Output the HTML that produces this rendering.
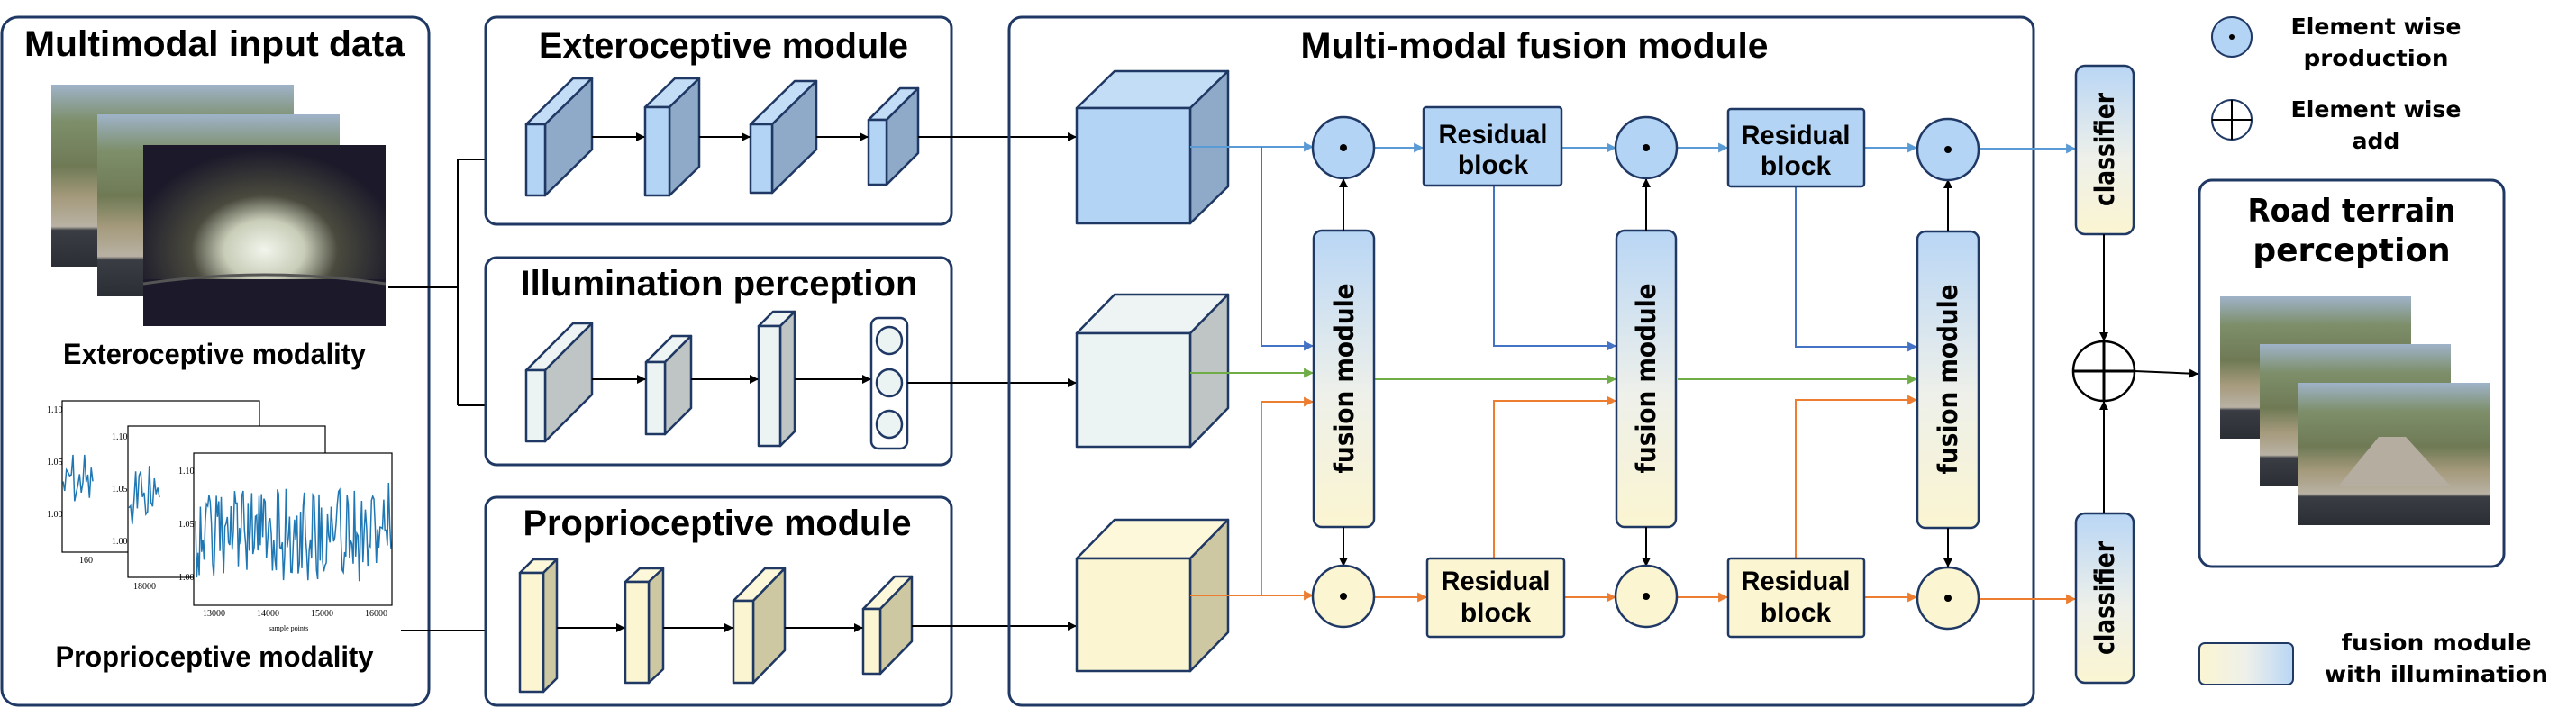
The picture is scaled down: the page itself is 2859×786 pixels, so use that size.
<!DOCTYPE html>
<html><head><meta charset="utf-8"><style>
html,body{margin:0;padding:0;background:#fff}
svg{display:block}
.t{font-family:"Liberation Sans",sans-serif;font-weight:bold;fill:#000}
.d{font-family:"DejaVu Sans","Liberation Sans",sans-serif;font-weight:bold;fill:#000}
</style></head><body>
<svg width="2859" height="786" viewBox="0 0 2859 786" xmlns="http://www.w3.org/2000/svg">
<defs>
<marker id="ak" viewBox="0 0 10 10" refX="9" refY="5" markerWidth="10" markerHeight="10" markerUnits="userSpaceOnUse" orient="auto"><path d="M0,0L10,5L0,10z" fill="#000"/></marker>
<marker id="ab" viewBox="0 0 10 10" refX="9" refY="5" markerWidth="11" markerHeight="11" markerUnits="userSpaceOnUse" orient="auto"><path d="M0,0L10,5L0,10z" fill="#5b9bd5"/></marker>
<marker id="ab2" viewBox="0 0 10 10" refX="9" refY="5" markerWidth="11" markerHeight="11" markerUnits="userSpaceOnUse" orient="auto"><path d="M0,0L10,5L0,10z" fill="#4472c4"/></marker>
<marker id="ag" viewBox="0 0 10 10" refX="9" refY="5" markerWidth="11" markerHeight="11" markerUnits="userSpaceOnUse" orient="auto"><path d="M0,0L10,5L0,10z" fill="#70ad47"/></marker>
<marker id="ao" viewBox="0 0 10 10" refX="9" refY="5" markerWidth="11" markerHeight="11" markerUnits="userSpaceOnUse" orient="auto"><path d="M0,0L10,5L0,10z" fill="#ed7d31"/></marker>
<linearGradient id="fg" x1="0" y1="0" x2="0" y2="1"><stop offset="0" stop-color="#b9d6f5"/><stop offset="0.55" stop-color="#eef0ea"/><stop offset="1" stop-color="#fbf5d1"/></linearGradient>
<linearGradient id="lg" x1="0" y1="0" x2="1" y2="0"><stop offset="0" stop-color="#fbf5d1"/><stop offset="0.5" stop-color="#eef0ea"/><stop offset="1" stop-color="#b9d6f5"/></linearGradient>
<linearGradient id="day" x1="0" y1="0" x2="0" y2="1"><stop offset="0" stop-color="#9fb3c9"/><stop offset="0.2" stop-color="#7d8f6a"/><stop offset="0.45" stop-color="#6f7a55"/><stop offset="0.62" stop-color="#a59a7c"/><stop offset="0.78" stop-color="#b9b2a4"/><stop offset="0.8" stop-color="#3a3d44"/><stop offset="1" stop-color="#2b2e35"/></linearGradient>
<radialGradient id="night" cx="0.5" cy="0.58" r="0.55"><stop offset="0" stop-color="#f2f5ec"/><stop offset="0.3" stop-color="#c8cdb8"/><stop offset="0.55" stop-color="#4a4a3e"/><stop offset="1" stop-color="#1c1a2a"/></radialGradient>
</defs>

<!-- Left panel -->
<rect x="2" y="19" width="474" height="764" rx="18" fill="#fff" stroke="#1f3864" stroke-width="3"/>
<text class="t" x="238" y="62" text-anchor="middle" font-size="40" textLength="422" lengthAdjust="spacingAndGlyphs">Multimodal input data</text>
<rect x="57" y="94" width="269" height="202" fill="url(#day)"/>
<rect x="108" y="127" width="269" height="202" fill="url(#day)"/>
<rect x="159" y="161" width="269" height="201" fill="url(#night)"/>
<rect x="159" y="310" width="269" height="52" fill="#1c1a2a"/>
<path d="M159,315 Q294,295 428,315" stroke="#555" stroke-width="3" fill="none"/>
<text class="t" x="238" y="404" text-anchor="middle" font-size="32" textLength="336" lengthAdjust="spacingAndGlyphs">Exteroceptive modality</text>
<!-- plots -->
<g fill="#fff" stroke="#000" stroke-width="1.2">
<rect x="69" y="445" width="219" height="168"/>
<rect x="142" y="473" width="219" height="168"/>
<rect x="215" y="503" width="220" height="169"/>
</g>
<polyline id="p1" fill="none" stroke="#1f77b4" stroke-width="1.5" points=""/>
<polyline id="p2" fill="none" stroke="#1f77b4" stroke-width="1.5" points=""/>
<polyline id="p3" fill="none" stroke="#1f77b4" stroke-width="1.5" points=""/>
<g font-family="Liberation Serif,serif" font-size="10" fill="#000">
<text x="52" y="458">1.10</text><text x="52" y="516">1.05</text><text x="52" y="574">1.00</text>
<text x="124" y="488">1.10</text><text x="124" y="546">1.05</text><text x="124" y="604">1.00</text>
<text x="198" y="526">1.10</text><text x="198" y="585">1.05</text><text x="198" y="644">1.00</text>
<text x="88" y="625">160</text><text x="148" y="654">18000</text>
<text x="225" y="684">13000</text><text x="285" y="684">14000</text><text x="345" y="684">15000</text><text x="405" y="684">16000</text>
<text x="298" y="700" font-size="8">sample points</text>
</g>
<text class="t" x="238" y="740" text-anchor="middle" font-size="32" textLength="353" lengthAdjust="spacingAndGlyphs">Proprioceptive modality</text>

<!-- connectors left -->
<g stroke="#000" stroke-width="2" fill="none">
<path d="M431,319H508"/>
<path d="M508,177V450"/>
<path d="M508,177H583" marker-end="url(#ak)"/>
<path d="M508,450H583" marker-end="url(#ak)"/>
<path d="M445,700H576" marker-end="url(#ak)"/>
</g>

<!-- module boxes -->
<g fill="#fff" stroke="#1f3864" stroke-width="3">
<rect x="539" y="19" width="517" height="230" rx="12"/>
<rect x="539" y="286" width="517" height="230" rx="12"/>
<rect x="539" y="552" width="517" height="231" rx="12"/>
</g>
<text class="t" x="803" y="64" text-anchor="middle" font-size="40" textLength="410" lengthAdjust="spacingAndGlyphs">Exteroceptive module</text>
<text class="t" x="798" y="328" text-anchor="middle" font-size="40" textLength="441" lengthAdjust="spacingAndGlyphs">Illumination perception</text>
<text class="t" x="796" y="594" text-anchor="middle" font-size="40" textLength="431" lengthAdjust="spacingAndGlyphs">Proprioceptive module</text>

<g stroke="#1f3864" stroke-width="2.5" stroke-linejoin="round">
<!-- blue blocks -->
<g>
<polygon points="584,138 636,87 657,87 605,138" fill="#c4ddf6"/><polygon points="605,138 657,87 657,166 605,217" fill="#8eaac8"/><rect x="584" y="138" width="21" height="79" fill="#b4d4f5"/>
<polygon points="716,119 749,87 776,87 743,119" fill="#c4ddf6"/><polygon points="743,119 776,87 776,185 743,217" fill="#8eaac8"/><rect x="716" y="119" width="27" height="98" fill="#b4d4f5"/>
<polygon points="833,138 882,90 906,90 857,138" fill="#c4ddf6"/><polygon points="857,138 906,90 906,166 857,214" fill="#8eaac8"/><rect x="833" y="138" width="24" height="76" fill="#b4d4f5"/>
<polygon points="964,133 999,98 1019,98 984,133" fill="#c4ddf6"/><polygon points="984,133 1019,98 1019,170 984,205" fill="#8eaac8"/><rect x="964" y="133" width="20" height="72" fill="#b4d4f5"/>
</g>
<!-- gray blocks -->
<g>
<polygon points="584,411 636,359 657,359 605,411" fill="#eef3f3"/><polygon points="605,411 657,359 657,438 605,490" fill="#bfc5c5"/><rect x="584" y="411" width="21" height="79" fill="#ecf3f3"/>
<polygon points="717,402 746,373 767,373 738,402" fill="#eef3f3"/><polygon points="738,402 767,373 767,453 738,482" fill="#bfc5c5"/><rect x="717" y="402" width="21" height="80" fill="#ecf3f3"/>
<polygon points="842,362 858,346 882,346 866,362" fill="#eef3f3"/><polygon points="866,362 882,346 882,479 866,495" fill="#bfc5c5"/><rect x="842" y="362" width="24" height="133" fill="#ecf3f3"/>
<rect x="967" y="353" width="40" height="145" rx="8" fill="#fff"/>
<ellipse cx="987" cy="378" rx="14" ry="15" fill="#ecf3f3"/><ellipse cx="987" cy="425" rx="14" ry="15" fill="#ecf3f3"/><ellipse cx="987" cy="471" rx="14" ry="15" fill="#ecf3f3"/>
</g>
<!-- yellow blocks -->
<g>
<polygon points="577,636 592,621 618,621 603,636" fill="#fdf8da"/><polygon points="603,636 618,621 618,753 603,768" fill="#cdc8a1"/><rect x="577" y="636" width="26" height="132" fill="#fbf5d1"/>
<polygon points="694,646 710,631 736,631 720,646" fill="#fdf8da"/><polygon points="720,646 736,631 736,743 720,758" fill="#cdc8a1"/><rect x="694" y="646" width="26" height="112" fill="#fbf5d1"/>
<polygon points="814,667 849,631 871,631 836,667" fill="#fdf8da"/><polygon points="836,667 871,631 871,722 836,758" fill="#cdc8a1"/><rect x="814" y="667" width="22" height="91" fill="#fbf5d1"/>
<polygon points="958,676 993,640 1012,640 977,676" fill="#fdf8da"/><polygon points="977,676 1012,640 1012,712 977,748" fill="#cdc8a1"/><rect x="958" y="676" width="19" height="72" fill="#fbf5d1"/>
</g>
</g>

<g stroke="#000" stroke-width="2" fill="none">
<path d="M657,152H715" marker-end="url(#ak)"/><path d="M776,152H832" marker-end="url(#ak)"/><path d="M906,152H963" marker-end="url(#ak)"/>
<path d="M1019,152H1194" marker-end="url(#ak)"/>
<path d="M657,421H716" marker-end="url(#ak)"/><path d="M767,421H841" marker-end="url(#ak)"/><path d="M882,421H966" marker-end="url(#ak)"/>
<path d="M1007,425H1194" marker-end="url(#ak)"/>
<path d="M618,697H693" marker-end="url(#ak)"/><path d="M736,697H813" marker-end="url(#ak)"/><path d="M871,697H957" marker-end="url(#ak)"/>
<path d="M1012,695H1194" marker-end="url(#ak)"/>
</g>

<!-- Fusion box -->
<rect x="1120" y="19" width="1137" height="764" rx="14" fill="none" stroke="#1f3864" stroke-width="3"/>
<text class="t" x="1703" y="64" text-anchor="middle" font-size="40" textLength="519" lengthAdjust="spacingAndGlyphs">Multi-modal fusion module</text>

<g stroke="#1f3864" stroke-width="2.5" stroke-linejoin="round">
<polygon points="1195,120 1237,79 1363,79 1321,120" fill="#c4ddf6"/><polygon points="1321,120 1363,79 1363,207 1321,248" fill="#8eaac8"/><rect x="1195" y="120" width="126" height="128" fill="#b4d4f5"/>
<polygon points="1195,370 1237,327 1363,327 1321,370" fill="#eef3f3"/><polygon points="1321,370 1363,327 1363,453 1321,496" fill="#bfc5c5"/><rect x="1195" y="370" width="126" height="126" fill="#ecf3f3"/>
<polygon points="1195,620 1237,577 1363,577 1321,620" fill="#fdf8da"/><polygon points="1321,620 1363,577 1363,702 1321,745" fill="#cdc8a1"/><rect x="1195" y="620" width="126" height="125" fill="#fbf5d1"/>
</g>

<!-- colored connectors -->
<g fill="none" stroke-width="2">
<path d="M1321,163H1457" stroke="#5b9bd5" marker-end="url(#ab)"/>
<path d="M1400,163V384H1457" stroke="#4472c4" marker-end="url(#ab2)"/>
<path d="M1525,164H1579" stroke="#5b9bd5" marker-end="url(#ab)"/>
<path d="M1733,164H1793" stroke="#5b9bd5" marker-end="url(#ab)"/>
<path d="M1860,164H1917" stroke="#5b9bd5" marker-end="url(#ab)"/>
<path d="M2069,164H2127" stroke="#5b9bd5" marker-end="url(#ab)"/>
<path d="M2196,165H2303" stroke="#5b9bd5" marker-end="url(#ab)"/>
<path d="M1658,206V384H1793" stroke="#4472c4" marker-end="url(#ab2)"/>
<path d="M1993,207V385H2127" stroke="#4472c4" marker-end="url(#ab2)"/>
<path d="M1321,414H1457" stroke="#70ad47" marker-end="url(#ag)"/>
<path d="M1517,421H1793" stroke="#70ad47" marker-end="url(#ag)"/>
<path d="M1862,421H2127" stroke="#70ad47" marker-end="url(#ag)"/>
<path d="M1321,661H1457" stroke="#ed7d31" marker-end="url(#ao)"/>
<path d="M1400,661V446H1457" stroke="#ed7d31" marker-end="url(#ao)"/>
<path d="M1658,620V445H1793" stroke="#ed7d31" marker-end="url(#ao)"/>
<path d="M1993,620V444H2127" stroke="#ed7d31" marker-end="url(#ao)"/>
<path d="M1525,663H1583" stroke="#ed7d31" marker-end="url(#ao)"/>
<path d="M1736,663H1793" stroke="#ed7d31" marker-end="url(#ao)"/>
<path d="M1860,663H1917" stroke="#ed7d31" marker-end="url(#ao)"/>
<path d="M2069,663H2127" stroke="#ed7d31" marker-end="url(#ao)"/>
<path d="M2196,665H2303" stroke="#ed7d31" marker-end="url(#ao)"/>
</g>

<!-- fusion modules -->
<g stroke="#1f3864" stroke-width="2.5">
<rect x="1458" y="256" width="67" height="329" rx="9" fill="url(#fg)"/>
<rect x="1794" y="256" width="66" height="329" rx="9" fill="url(#fg)"/>
<rect x="2128" y="257" width="68" height="329" rx="9" fill="url(#fg)"/>
<rect x="2304" y="73" width="64" height="187" rx="10" fill="url(#fg)"/>
<rect x="2304" y="570" width="64" height="188" rx="10" fill="url(#fg)"/>
</g>
<g class="d" font-size="29" text-anchor="middle" dominant-baseline="central">
<text class="d" transform="translate(1492,420) rotate(-90)" textLength="211" lengthAdjust="spacingAndGlyphs">fusion module</text>
<text class="d" transform="translate(1827,420) rotate(-90)" textLength="211" lengthAdjust="spacingAndGlyphs">fusion module</text>
<text class="d" transform="translate(2162,421) rotate(-90)" textLength="211" lengthAdjust="spacingAndGlyphs">fusion module</text>
<text class="d" transform="translate(2336,166) rotate(-90)" textLength="126" lengthAdjust="spacingAndGlyphs">classifier</text>
<text class="d" transform="translate(2336,664) rotate(-90)" textLength="126" lengthAdjust="spacingAndGlyphs">classifier</text>
</g>

<!-- vertical black arrows -->
<g stroke="#000" stroke-width="2" fill="none">
<path d="M1491,256V199" marker-end="url(#ak)"/><path d="M1827,256V199" marker-end="url(#ak)"/><path d="M2162,257V200" marker-end="url(#ak)"/>
<path d="M1491,585V628" marker-end="url(#ak)"/><path d="M1827,585V628" marker-end="url(#ak)"/><path d="M2162,586V629" marker-end="url(#ak)"/>
<path d="M2335,260V378" marker-end="url(#ak)"/><path d="M2335,570V446" marker-end="url(#ak)"/>
<path d="M2369,412L2439,415" marker-end="url(#ak)"/>
</g>

<!-- circles -->
<g stroke="#1f3864" stroke-width="2.5">
<circle cx="1491" cy="164" r="34" fill="#b4d4f5"/><circle cx="1827" cy="164" r="34" fill="#b4d4f5"/><circle cx="2162" cy="166" r="34" fill="#b4d4f5"/>
<circle cx="1491" cy="662" r="34" fill="#fbf5d1"/><circle cx="1827" cy="662" r="34" fill="#fbf5d1"/><circle cx="2162" cy="664" r="34" fill="#fbf5d1"/>
<rect x="1580" y="119" width="153" height="87" rx="3" fill="#b4d4f5"/>
<rect x="1918" y="121" width="151" height="86" rx="3" fill="#b4d4f5"/>
<rect x="1584" y="620" width="152" height="87" rx="3" fill="#fbf5d1"/>
<rect x="1918" y="620" width="151" height="87" rx="3" fill="#fbf5d1"/>
</g>
<g fill="#000"><circle cx="1491" cy="164" r="4"/><circle cx="1827" cy="164" r="4"/><circle cx="2162" cy="166" r="4"/><circle cx="1491" cy="662" r="4"/><circle cx="1827" cy="662" r="4"/><circle cx="2162" cy="664" r="4"/></g>
<g class="t" font-size="30" text-anchor="middle">
<text class="t" x="1657" y="159" textLength="121" lengthAdjust="spacingAndGlyphs">Residual</text><text class="t" x="1657" y="193">block</text>
<text class="t" x="1993" y="160" textLength="121" lengthAdjust="spacingAndGlyphs">Residual</text><text class="t" x="1993" y="194">block</text>
<text class="t" x="1660" y="655" textLength="121" lengthAdjust="spacingAndGlyphs">Residual</text><text class="t" x="1660" y="690">block</text>
<text class="t" x="1993" y="655" textLength="121" lengthAdjust="spacingAndGlyphs">Residual</text><text class="t" x="1993" y="690">block</text>
</g>

<!-- plus -->
<ellipse cx="2335" cy="412" rx="34" ry="33" fill="#fff" stroke="#000" stroke-width="2.5"/>
<path d="M2301,412H2369M2335,379V445" stroke="#000" stroke-width="3"/>

<!-- legend -->
<ellipse cx="2477" cy="41" rx="22" ry="22" fill="#b4d4f5" stroke="#1f3864" stroke-width="2"/><circle cx="2477" cy="41" r="3" fill="#000"/>
<ellipse cx="2477" cy="133" rx="22" ry="22" fill="#fff" stroke="#1f3864" stroke-width="2"/><path d="M2455,133H2499M2477,111V155" stroke="#000" stroke-width="2"/>
<g font-size="25" text-anchor="middle">
<text class="d" x="2637" y="38" textLength="189" lengthAdjust="spacingAndGlyphs">Element wise</text>
<text class="d" x="2637" y="73" textLength="161" lengthAdjust="spacingAndGlyphs">production</text>
<text class="d" x="2637" y="130" textLength="189" lengthAdjust="spacingAndGlyphs">Element wise</text>
<text class="d" x="2637" y="165">add</text>
<text class="d" x="2704" y="722" textLength="211" lengthAdjust="spacingAndGlyphs">fusion module</text>
<text class="d" x="2704" y="757" textLength="248" lengthAdjust="spacingAndGlyphs">with illumination</text>
</g>
<rect x="2441" y="714" width="104" height="46" rx="6" fill="url(#lg)" stroke="#1f3864" stroke-width="2"/>

<!-- road terrain -->
<rect x="2441" y="200" width="338" height="429" rx="14" fill="#fff" stroke="#1f3864" stroke-width="3"/>
<text class="d" x="2610" y="246" text-anchor="middle" font-size="36" textLength="231" lengthAdjust="spacingAndGlyphs">Road terrain</text>
<text class="d" x="2610" y="290" text-anchor="middle" font-size="36">perception</text>
<rect x="2464" y="329" width="212" height="158" fill="url(#day)"/>
<rect x="2508" y="382" width="212" height="158" fill="url(#day)"/>
<rect x="2551" y="425" width="212" height="158" fill="url(#day)"/>
<polygon points="2640,485 2670,485 2720,540 2595,540" fill="#b4ada0"/>
</svg>
<script>
function sq(id,x0,x1,yc,amp,n,seed){var s=seed,p=[];for(var i=0;i<=n;i++){s=(s*9301+49297)%233280;var r=s/233280-0.5;var y=yc+r*amp*2+Math.sin(i*0.9)*amp*0.3;p.push((x0+(x1-x0)*i/n).toFixed(1)+","+y.toFixed(1));}document.getElementById(id).setAttribute("points",p.join(" "));}
sq("p1",70,103,535,28,18,7);sq("p2",143,177,550,30,18,13);sq("p3",217,434,590,45,160,29);
</script>
</body></html>
